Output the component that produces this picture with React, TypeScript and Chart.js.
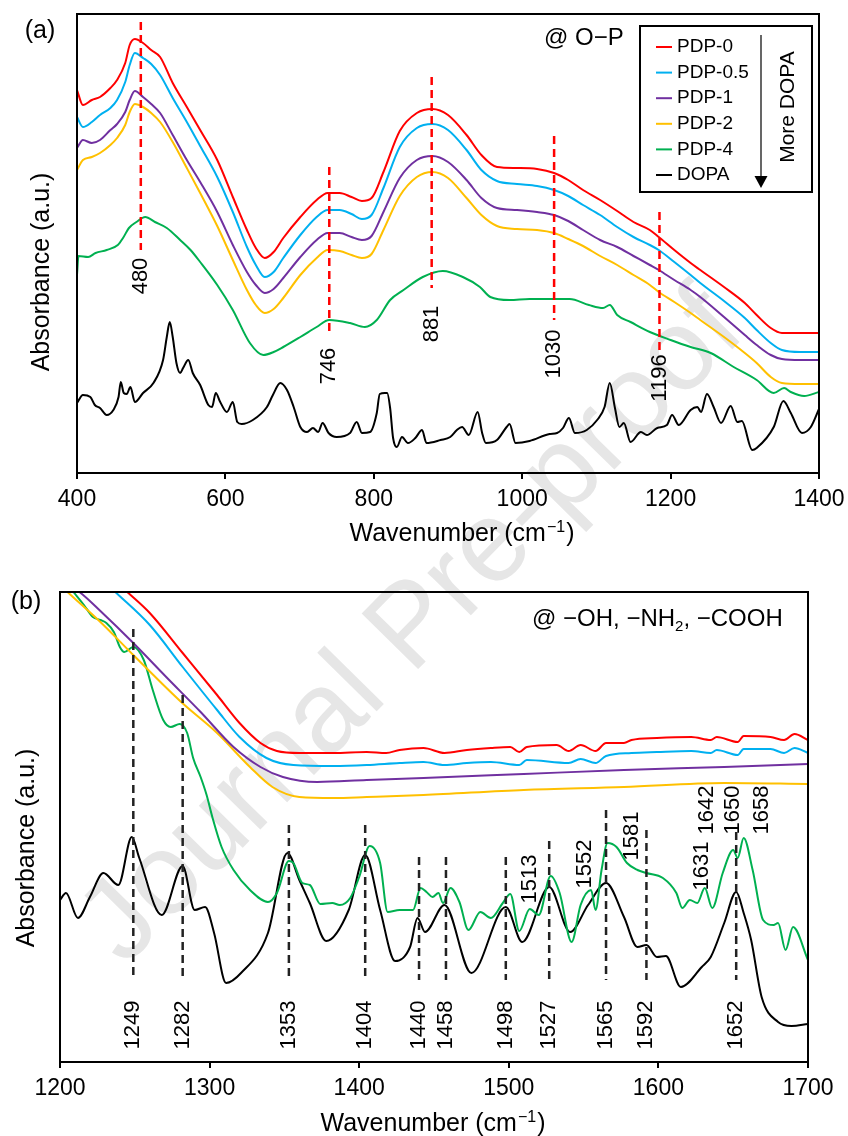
import React, { useEffect, useRef } from 'react';
import { Chart, registerables } from 'chart.js';

Chart.register(...registerables);

const FONT = '"Liberation Sans", Arial, Helvetica, sans-serif';

const SERIES_LABELS = ['PDP-0', 'PDP-0.5', 'PDP-1', 'PDP-2', 'PDP-4', 'DOPA'];
const SERIES_COLORS = ['#FF0000', '#00B0F0', '#7030A0', '#FFC000', '#00B050', '#000000'];

// ---------------- Panel (a): 400-1400 cm-1 ----------------
const A_X_MIN = 400;
const A_X_MAX = 1400;
const A_X_STEP = 200;
const A_Y_MAX = 459;

const A_PDP_X = [400, 408, 420, 431, 445, 454, 465, 471, 478, 489, 500, 512, 529, 548, 566, 589, 610, 629, 641, 653, 665, 678, 701, 723, 738, 754, 770, 784, 797, 813, 835, 858, 879, 900, 925, 945, 966, 993, 1020, 1043, 1062, 1082, 1105, 1128, 1150, 1172, 1184, 1205, 1227, 1240, 1272, 1300, 1316, 1335, 1350, 1375, 1400];
const A_PDP0 = [383, 368, 373, 376, 385, 393, 410, 428, 434, 430, 423, 416, 390, 366, 343, 313, 276, 243, 225, 215, 221, 235, 256, 273, 280, 280, 276, 272, 275, 301, 342, 360, 364, 358, 338, 318, 306, 305, 304, 300, 293, 283, 273, 262, 251, 243, 236, 223, 210, 203, 186, 170, 158, 145, 140, 140, 140];
const A_PDP05 = [356, 346, 351, 358, 365, 373, 391, 408, 420, 415, 409, 398, 375, 351, 327, 296, 261, 226, 208, 196, 201, 215, 238, 256, 263, 263, 259, 254, 258, 285, 326, 345, 349, 343, 323, 303, 292, 289, 287, 283, 277, 268, 258, 246, 236, 228, 223, 211, 198, 190, 172, 155, 143, 130, 123, 121, 121];
const A_PDP1 = [325, 333, 330, 333, 343, 349, 361, 373, 382, 376, 369, 360, 338, 313, 291, 261, 228, 201, 188, 180, 184, 195, 216, 233, 240, 240, 236, 233, 237, 261, 295, 313, 317, 311, 293, 275, 265, 263, 261, 258, 252, 243, 233, 226, 217, 208, 203, 193, 183, 176, 156, 138, 128, 118, 114, 113, 113];
const A_PDP2 = [303, 313, 316, 320, 328, 335, 348, 361, 369, 366, 360, 351, 331, 305, 280, 247, 213, 183, 168, 160, 164, 175, 198, 215, 223, 222, 218, 215, 219, 243, 277, 296, 301, 295, 275, 258, 247, 244, 243, 240, 234, 227, 217, 208, 198, 188, 181, 171, 160, 153, 136, 120, 110, 96, 90, 89, 89];
const A_PDP4_X = [400, 402, 415, 425, 440, 455, 462, 470, 480, 492, 505, 521, 539, 553, 566, 589, 610, 633, 651, 665, 678, 701, 723, 740, 768, 788, 804, 822, 840, 866, 893, 920, 943, 957, 983, 1010, 1043, 1064, 1090, 1109, 1118, 1128, 1146, 1172, 1200, 1227, 1254, 1285, 1316, 1339, 1353, 1362, 1380, 1400];
const A_PDP4 = [198, 217, 216, 220, 223, 228, 235, 245, 251, 256, 251, 245, 233, 223, 211, 188, 163, 130, 118, 121, 126, 136, 146, 153, 150, 146, 153, 173, 183, 196, 202, 196, 186, 176, 173, 174, 174, 174, 168, 165, 168, 158, 151, 141, 133, 126, 120, 106, 93, 80, 85, 81, 77, 81];
const A_DOPA_X = [400, 408, 418, 424, 431, 440, 449, 456, 459, 463, 467, 472, 478, 489, 503, 516, 521, 525, 529, 534, 539, 543, 550, 556, 566, 577, 582, 587, 593, 602, 610, 616, 622, 637, 656, 664, 674, 683, 692, 701, 710, 718, 725, 731, 739, 750, 768, 777, 784, 795, 804, 808, 815, 818, 822, 826, 831, 838, 846, 856, 865, 871, 890, 903, 912, 919, 928, 940, 946, 951, 966, 979, 983, 991, 1010, 1037, 1047, 1055, 1063, 1071, 1087, 1101, 1111, 1118, 1125, 1131, 1137, 1146, 1160, 1168, 1182, 1195, 1202, 1211, 1227, 1236, 1241, 1249, 1258, 1268, 1281, 1290, 1296, 1310, 1316, 1339, 1352, 1362, 1377, 1389, 1400];
const A_DOPA = [70, 78, 76, 68, 65, 58, 63, 76, 91, 80, 79, 86, 71, 80, 90, 113, 136, 151, 136, 110, 100, 105, 113, 100, 88, 68, 66, 80, 71, 61, 71, 51, 49, 53, 66, 78, 90, 83, 66, 46, 41, 45, 41, 50, 40, 36, 40, 51, 40, 41, 60, 79, 80, 80, 65, 35, 26, 36, 30, 35, 43, 30, 33, 36, 43, 46, 38, 61, 40, 30, 33, 46, 49, 30, 32, 39, 40, 45, 55, 40, 43, 53, 66, 90, 65, 46, 50, 31, 41, 38, 45, 48, 58, 48, 63, 66, 61, 79, 66, 50, 67, 51, 52, 23, 25, 46, 72, 60, 40, 46, 64];

// red dashed peak markers (a)
const A_MARK_X = [486, 740, 878, 1043, 1185];
const A_MARK_LABELS = ['480', '746', '881', '1030', '1196'];
const A_MARK_TOP = [451, 306, 396, 337, 261];
const A_MARK_BOTTOM = [223, 141, 185, 153, 120];
const A_MARK_LABEL_Y = [197, 107, 149, 119, 95];

// ---------------- Panel (b): 1200-1700 cm-1 ----------------
const B_X_MIN = 1200;
const B_X_MAX = 1700;
const B_X_STEP = 100;
const B_Y_MAX = 470;

const B_PDP0_X = [1200, 1245, 1260, 1282, 1305, 1320, 1334, 1345, 1360, 1383, 1405, 1418, 1427, 1443, 1457, 1472, 1488, 1501, 1507, 1512, 1532, 1540, 1548, 1558, 1565, 1577, 1582, 1599, 1622, 1635, 1639, 1653, 1657, 1675, 1684, 1691, 1700];
const B_PDP0 = [533, 470, 449, 409, 367, 339, 319, 311, 309, 309, 310, 309, 312, 314, 309, 312, 314, 315, 310, 315, 317, 311, 317, 311, 319, 319, 322, 324, 325, 322, 325, 320, 326, 325, 322, 328, 322];
const B_PDP05_X = [1200, 1237, 1260, 1282, 1305, 1320, 1338, 1356, 1383, 1405, 1427, 1443, 1457, 1472, 1488, 1507, 1512, 1540, 1548, 1558, 1565, 1582, 1599, 1622, 1635, 1639, 1653, 1657, 1675, 1684, 1691, 1700];
const B_PDP05 = [523, 470, 437, 395, 352, 325, 304, 297, 296, 297, 299, 300, 297, 299, 300, 297, 302, 299, 303, 299, 306, 309, 310, 311, 309, 312, 307, 313, 313, 309, 314, 309];
const B_PDP1_X = [1200, 1213, 1227, 1249, 1271, 1294, 1316, 1334, 1349, 1372, 1405, 1443, 1510, 1577, 1644, 1700];
const B_PDP1 = [482, 470, 451, 419, 385, 350, 315, 295, 285, 280, 282, 284, 288, 292, 295, 298];
const B_PDP2_X = [1200, 1205, 1227, 1249, 1281, 1305, 1327, 1342, 1360, 1383, 1405, 1443, 1510, 1577, 1644, 1700];
const B_PDP2 = [477, 470, 440, 407, 360, 329, 295, 275, 265, 264, 265, 267, 272, 275, 279, 278];
const B_PDP4_X = [1200, 1209, 1216, 1222, 1227, 1231, 1236, 1240, 1243, 1249, 1256, 1262, 1269, 1274, 1280, 1285, 1289, 1294, 1298, 1302, 1308, 1316, 1327, 1339, 1345, 1353, 1356, 1362, 1367, 1374, 1382, 1387, 1394, 1400, 1407, 1414, 1419, 1427, 1436, 1441, 1445, 1449, 1453, 1456, 1461, 1467, 1473, 1481, 1488, 1496, 1501, 1507, 1514, 1520, 1528, 1534, 1542, 1548, 1555, 1558, 1562, 1566, 1572, 1579, 1586, 1592, 1603, 1612, 1616, 1621, 1626, 1631, 1636, 1643, 1650, 1653, 1657, 1663, 1670, 1677, 1680, 1685, 1690, 1700];
const B_PDP4 = [487, 470, 457, 445, 442, 439, 430, 415, 410, 415, 402, 372, 342, 335, 338, 329, 304, 285, 267, 244, 215, 192, 172, 160, 169, 201, 199, 179, 177, 158, 159, 157, 164, 185, 216, 199, 150, 152, 152, 174, 170, 165, 169, 159, 174, 160, 132, 150, 144, 159, 168, 131, 153, 147, 186, 169, 120, 157, 172, 152, 192, 219, 215, 199, 192, 189, 184, 169, 154, 162, 159, 174, 154, 189, 212, 204, 224, 192, 142, 137, 139, 112, 135, 102];
const B_DOPA_X = [1200, 1204, 1212, 1220, 1229, 1239, 1248, 1253, 1268, 1282, 1290, 1297, 1303, 1311, 1321, 1339, 1352, 1360, 1367, 1378, 1393, 1404, 1414, 1424, 1434, 1439, 1444, 1457, 1475, 1498, 1509, 1527, 1541, 1553, 1565, 1577, 1586, 1592, 1599, 1605, 1615, 1629, 1635, 1644, 1652, 1657, 1662, 1669, 1680, 1689, 1700];
const B_DOPA = [162, 169, 144, 165, 189, 177, 225, 204, 147, 196, 152, 155, 129, 79, 89, 129, 209, 182, 159, 121, 152, 207, 152, 101, 115, 144, 130, 157, 89, 155, 120, 175, 130, 157, 179, 145, 115, 117, 105, 106, 75, 95, 105, 139, 170, 149, 122, 65, 40, 36, 38];

// black dashed peak markers (b)
const B_MARK_X = [1249, 1282, 1353, 1404, 1440, 1458, 1498, 1527, 1565, 1592, 1652];
const B_MARK_TOP = [433, 367, 237, 237, 205, 205, 205, 221, 252, 232, 230];
const B_MARK_BOTTOM = 82;
const B_MARK_LABEL_Y = 37;
const B_UPPER_LABELS = ['1513', '1552', '1581', '1631', '1642', '1650', '1658'];
const B_UPPER_X = [1514, 1551, 1582, 1629, 1632.5, 1650, 1669];
const B_UPPER_Y = [183, 198, 226, 196, 252, 252, 252];

const pts = (xs: number[], ys: number[]) => xs.map((x, i) => ({ x, y: ys[i] }));

function rotatedText(ctx: CanvasRenderingContext2D, text: string, x: number, y: number, size: number) {
  ctx.save();
  ctx.translate(x, y);
  ctx.rotate(-Math.PI / 2);
  ctx.font = `${size}px ${FONT}`;
  ctx.textAlign = 'center';
  ctx.textBaseline = 'middle';
  ctx.fillStyle = '#000';
  ctx.fillText(text, 0, 0);
  ctx.restore();
}

function wavenumberTitle(ctx: CanvasRenderingContext2D, cx: number, cy: number, size: number) {
  const main = 'Wavenumber (cm';
  const sup = '\u22121';
  const end = ')';
  const supSize = Math.round(size * 0.62);
  ctx.save();
  ctx.fillStyle = '#000';
  ctx.textAlign = 'left';
  ctx.textBaseline = 'alphabetic';
  ctx.font = `${size}px ${FONT}`;
  const w1 = ctx.measureText(main).width;
  const w3 = ctx.measureText(end).width;
  ctx.font = `${supSize}px ${FONT}`;
  const w2 = ctx.measureText(sup).width;
  const total = w1 + w2 + w3 + 2;
  let x = cx - total / 2;
  const base = cy + size * 0.36;
  ctx.font = `${size}px ${FONT}`;
  ctx.fillText(main, x, base);
  x += w1 + 1;
  ctx.font = `${supSize}px ${FONT}`;
  ctx.fillText(sup, x, base - size * 0.36);
  x += w2 + 1;
  ctx.font = `${size}px ${FONT}`;
  ctx.fillText(end, x, base);
  ctx.restore();
}

function plainText(ctx: CanvasRenderingContext2D, text: string, x: number, y: number, size: number, align: CanvasTextAlign = 'left') {
  ctx.save();
  ctx.font = `${size}px ${FONT}`;
  ctx.textAlign = align;
  ctx.textBaseline = 'middle';
  ctx.fillStyle = '#000';
  ctx.fillText(text, x, y);
  ctx.restore();
}

function frame(chart: any) {
  const { ctx, chartArea: ca } = chart;
  ctx.save();
  ctx.strokeStyle = '#000';
  ctx.lineWidth = 2;
  ctx.strokeRect(ca.left, ca.top, ca.right - ca.left, ca.bottom - ca.top);
  ctx.restore();
}

const decorA = {
  id: 'decorA',
  afterDatasetsDraw(chart: any) {
    const { ctx, scales: { x, y } } = chart;
    ctx.save();
    ctx.strokeStyle = '#FF0000';
    ctx.lineWidth = 2.5;
    ctx.setLineDash([8, 5]);
    A_MARK_X.forEach((v, i) => {
      const px = x.getPixelForValue(v);
      ctx.beginPath();
      ctx.moveTo(px, y.getPixelForValue(A_MARK_TOP[i]));
      ctx.lineTo(px, y.getPixelForValue(A_MARK_BOTTOM[i]));
      ctx.stroke();
    });
    ctx.restore();
    A_MARK_LABELS.forEach((t, i) => rotatedText(ctx, t, x.getPixelForValue(A_MARK_X[i]), y.getPixelForValue(A_MARK_LABEL_Y[i]), 22));
  },
  afterDraw(chart: any) {
    const { ctx, chartArea: ca } = chart;
    frame(chart);
    plainText(ctx, '(a)', 40, 31, 25, 'center');
    plainText(ctx, '@ O\u2212P', ca.right - 275, ca.top + 24, 24, 'left');
    rotatedText(ctx, 'Absorbance (a.u.)', 42, 272, 25);
    wavenumberTitle(ctx, 462, 532, 25);
    // legend
    const bx = ca.right - 179;
    const by = ca.top + 12;
    ctx.save();
    ctx.fillStyle = '#fff';
    ctx.fillRect(bx, by, 172, 166);
    ctx.strokeStyle = '#000';
    ctx.lineWidth = 2;
    ctx.strokeRect(bx, by, 172, 166);
    chart.data.datasets.forEach((ds: any, i: number) => {
      const ry = by + 21 + i * 25.6;
      ctx.strokeStyle = ds.borderColor;
      ctx.lineWidth = 2;
      ctx.beginPath();
      ctx.moveTo(bx + 16, ry);
      ctx.lineTo(bx + 32, ry);
      ctx.stroke();
      plainText(ctx, ds.label, bx + 37, ry, 19, 'left');
    });
    // arrow
    const ax = bx + 121;
    ctx.strokeStyle = '#000';
    ctx.lineWidth = 1.2;
    ctx.beginPath();
    ctx.moveTo(ax, by + 9);
    ctx.lineTo(ax, by + 152);
    ctx.stroke();
    ctx.fillStyle = '#000';
    ctx.beginPath();
    ctx.moveTo(ax - 6.5, by + 150);
    ctx.lineTo(ax + 6.5, by + 150);
    ctx.lineTo(ax, by + 162);
    ctx.closePath();
    ctx.fill();
    ctx.restore();
    rotatedText(ctx, 'More DOPA', bx + 148, by + 81, 21);
  },
};

const decorB = {
  id: 'decorB',
  afterDatasetsDraw(chart: any) {
    const { ctx, scales: { x, y } } = chart;
    ctx.save();
    ctx.strokeStyle = '#222';
    ctx.lineWidth = 2.5;
    ctx.setLineDash([8, 5]);
    B_MARK_X.forEach((v, i) => {
      const px = x.getPixelForValue(v);
      ctx.beginPath();
      ctx.moveTo(px, y.getPixelForValue(B_MARK_TOP[i]));
      ctx.lineTo(px, y.getPixelForValue(B_MARK_BOTTOM));
      ctx.stroke();
    });
    ctx.restore();
    B_MARK_X.forEach((v) => rotatedText(ctx, String(v), x.getPixelForValue(v), y.getPixelForValue(B_MARK_LABEL_Y), 22));
    B_UPPER_LABELS.forEach((t, i) => rotatedText(ctx, t, x.getPixelForValue(B_UPPER_X[i]), y.getPixelForValue(B_UPPER_Y[i]), 22));
  },
  afterDraw(chart: any) {
    const { ctx } = chart;
    frame(chart);
    plainText(ctx, '(b)', 26, 34, 25, 'center');
    rotatedText(ctx, 'Absorbance (a.u.)', 27, 280, 25);
    wavenumberTitle(ctx, 433, 554, 25);
    // "@ -OH, -NH2, -COOH" with subscript
    ctx.save();
    ctx.fillStyle = '#000';
    ctx.textBaseline = 'alphabetic';
    ctx.textAlign = 'left';
    const size = 24;
    const base = 49 + size * 0.36;
    let tx = 532;
    const p1 = '@ \u2212OH, \u2212NH';
    const p3 = ', \u2212COOH';
    ctx.font = `${size}px ${FONT}`;
    ctx.fillText(p1, tx, base);
    tx += ctx.measureText(p1).width;
    ctx.font = `${Math.round(size * 0.62)}px ${FONT}`;
    ctx.fillText('2', tx, base + 5);
    tx += ctx.measureText('2').width;
    ctx.font = `${size}px ${FONT}`;
    ctx.fillText(p3, tx, base);
    ctx.restore();
  },
};

function makeConfig(datasets: any[], xmin: number, xmax: number, step: number, ymax: number, padding: any, xHeight: number, plugin: any) {
  return {
    type: 'line',
    data: {
      datasets: datasets.map((d, i) => ({
        label: SERIES_LABELS[i],
        data: d,
        borderColor: SERIES_COLORS[i],
        backgroundColor: SERIES_COLORS[i],
        borderWidth: 2,
        pointRadius: 0,
        fill: false,
        cubicInterpolationMode: 'monotone',
      })),
    },
    options: {
      animation: false,
      responsive: false,
      maintainAspectRatio: false,
      layout: { padding },
      plugins: { legend: { display: false }, tooltip: { enabled: false }, title: { display: false } },
      scales: {
        x: {
          type: 'linear',
          min: xmin,
          max: xmax,
          ticks: {
            stepSize: step,
            color: '#000',
            font: { family: FONT, size: 23 },
            padding: 7,
            maxRotation: 0,
            callback: (v: any) => String(v),
          },
          grid: { drawOnChartArea: false, drawTicks: true, tickLength: 6, color: '#000', lineWidth: 2 },
          border: { display: false },
          afterFit: (s: any) => {
            s.height = xHeight;
            s.paddingLeft = 0;
            s.paddingRight = 0;
          },
        },
        y: { display: false, min: 0, max: ymax },
      },
    },
    plugins: [plugin],
  } as any;
}

export default function App() {
  const refA = useRef<HTMLCanvasElement>(null);
  const refB = useRef<HTMLCanvasElement>(null);

  useEffect(() => {
    const setsA = [
      pts(A_PDP_X, A_PDP0),
      pts(A_PDP_X, A_PDP05),
      pts(A_PDP_X, A_PDP1),
      pts(A_PDP_X, A_PDP2),
      pts(A_PDP4_X, A_PDP4),
      pts(A_DOPA_X, A_DOPA),
    ];
    const setsB = [
      pts(B_PDP0_X, B_PDP0),
      pts(B_PDP05_X, B_PDP05),
      pts(B_PDP1_X, B_PDP1),
      pts(B_PDP2_X, B_PDP2),
      pts(B_PDP4_X, B_PDP4),
      pts(B_DOPA_X, B_DOPA),
    ];
    const a = new Chart(refA.current as HTMLCanvasElement, makeConfig(setsA, A_X_MIN, A_X_MAX, A_X_STEP, A_Y_MAX, { left: 77, right: 29, top: 14, bottom: 0 }, 95, decorA));
    const b = new Chart(refB.current as HTMLCanvasElement, makeConfig(setsB, B_X_MIN, B_X_MAX, B_X_STEP, B_Y_MAX, { left: 60, right: 40, top: 24, bottom: 0 }, 74, decorB));
    return () => {
      a.destroy();
      b.destroy();
    };
  }, []);

  return (
    <div style={{ position: 'absolute', left: 0, top: 0, width: 848, height: 1136, background: '#fff', overflow: 'hidden' }}>
      <div
        style={{
          position: 'absolute',
          left: 408,
          top: 623,
          transform: 'translate(-50%, -50%) rotate(-45.5deg)',
          fontFamily: FONT,
          fontSize: 115,
          lineHeight: 1,
          color: '#e6e6e6',
          whiteSpace: 'nowrap',
        }}
      >
        Journal Pre-proof
      </div>
      <canvas ref={refA} width={848} height={568} style={{ position: 'absolute', left: 0, top: 0, width: 848, height: 568 }} />
      <canvas ref={refB} width={848} height={568} style={{ position: 'absolute', left: 0, top: 568, width: 848, height: 568 }} />
    </div>
  );
}
